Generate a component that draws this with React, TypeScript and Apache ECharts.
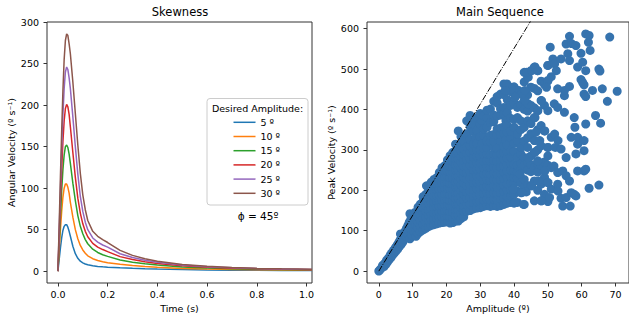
import React, { useEffect, useRef } from "react";
import * as echarts from "echarts";

// ---------- Left panel: skewness velocity profiles ----------
const timeSec = [0, 0.005, 0.01, 0.015, 0.02, 0.025, 0.03, 0.035, 0.04, 0.045, 0.05, 0.06, 0.07, 0.08, 0.09, 0.1, 0.11, 0.12, 0.14, 0.16, 0.18, 0.2, 0.25, 0.3, 0.35, 0.4, 0.5, 0.6, 0.7, 0.8, 0.9, 1.022];
const amplitudeNames = ["5 º", "10 º", "15 º", "20 º", "25 º", "30 º"];
const vel5 = [0, 14, 28, 40, 49, 54, 56, 56, 53, 48, 42, 30, 21, 15.5, 12, 10, 8.6, 7.7, 6.5, 5.7, 5.2, 4.8, 4.0, 3.4, 2.9, 2.5, 1.9, 1.5, 1.2, 1.0, 0.9, 0.8];
const vel10 = [0, 25, 50, 72, 89, 100, 105, 105, 101, 94, 83, 65, 50, 39, 31, 25.5, 21.5, 18.5, 15, 12.8, 11.3, 10.2, 8.2, 6.7, 5.5, 4.6, 3.3, 2.5, 2.0, 1.6, 1.3, 1.1];
const vel15 = [0, 32, 66, 97, 122, 140, 150, 152, 149, 141, 130, 106, 85, 67, 54, 45, 38, 33, 26.5, 22.5, 19.8, 17.8, 13.5, 10.8, 8.8, 7.3, 5.1, 3.8, 2.9, 2.3, 1.9, 1.5];
const vel20 = [0, 40, 82, 122, 156, 181, 196, 201, 198, 189, 174, 143, 113, 88, 70, 57, 48, 41.5, 33.5, 29, 26, 23.5, 17.5, 14, 11.3, 9.3, 6.4, 4.7, 3.6, 2.8, 2.3, 1.8];
const vel25 = [0, 48, 98, 146, 188, 220, 240, 246, 243, 233, 220, 186, 150, 117, 90, 72, 59, 50, 40, 35, 31.5, 29, 21, 16.5, 13.2, 10.8, 7.3, 5.3, 4.0, 3.2, 2.6, 2.0];
const vel30 = [0, 56, 114, 168, 217, 255, 278, 286, 284, 274, 262, 228, 190, 152, 118, 92, 74, 61, 48, 42, 38, 34.5, 25, 19, 15, 12, 8, 5.8, 4.4, 3.5, 2.8, 2.2];
const velocityProfiles = [vel5, vel10, vel15, vel20, vel25, vel30];
const lineColors = ["#1f77b4", "#ff7f0e", "#2ca02c", "#d62728", "#9467bd", "#8c564b"];
const leftXTicks = [0, 0.2, 0.4, 0.6, 0.8, 1.0];
const leftYTicks = [0, 50, 100, 150, 200, 250, 300];

// ---------- Right panel: main sequence ----------
const lowBandPoints: [number, number][] = [
  [0, 0], [0.3, 3], [0.8, 8], [1.1, 14], [1.5, 11], [1.8, 20], [2.1, 17], [2.3, 27], [2.6, 23], [2.9, 33],
  [3.1, 29], [3.4, 40], [3.6, 34], [3.9, 46], [4.1, 40], [4.4, 52], [4.6, 45], [4.9, 58], [5.1, 50], [5.4, 64],
  [5.6, 55], [5.9, 71], [6.1, 61], [6.3, 77], [6.4, 92], [6.6, 66], [6.9, 84], [7.1, 72], [7.3, 91], [7.5, 79],
  [7.8, 99], [8.0, 86], [8.2, 106], [8.4, 93], [8.6, 113], [8.8, 99], [9.0, 121], [9.2, 142], [9.2, 80], [9.3, 106],
  [9.5, 129], [9.7, 90], [9.9, 114], [10.1, 136], [10.3, 99], [10.5, 122], [10.7, 145],
];
const amplitudeColumns: [number, number[]][] = [
  [11.0, [86, 100, 114, 128, 142]],
  [11.6, [93, 107, 121, 135, 149, 158]],
  [12.3, [98, 112, 126, 140, 154, 166]],
  [13.1, [102, 116, 130, 144, 158, 172, 184]],
  [13.9, [106, 120, 134, 148, 162, 176, 190]],
  [14.1, [211]],
  [14.7, [110, 124, 138, 152, 166, 180, 194, 205]],
  [15.5, [113, 127, 141, 155, 169, 183, 197, 211, 220]],
  [16.3, [115, 129, 143, 157, 171, 185, 199, 213, 227]],
  [17.0, [228]],
  [17.1, [117, 131, 145, 159, 173, 187, 201, 215, 231]],
  [17.9, [119, 133, 147, 161, 175, 189, 203, 217, 231, 244]],
  [18.7, [120, 134, 148, 162, 176, 190, 204, 218, 232, 246, 256]],
  [19.5, [121, 135, 149, 163, 177, 191, 205, 219, 233, 247, 261]],
  [20.3, [122, 136, 150, 164, 178, 192, 206, 220, 234, 248, 262, 275]],
  [21.1, [119, 133, 147, 161, 175, 189, 203, 217, 231, 245, 259, 273, 286]],
  [21.9, [120, 132, 146, 160, 174, 188, 202, 216, 230, 244, 258, 272, 281, 294]],
  [22.7, [124, 138, 152, 166, 180, 194, 208, 222, 236, 250, 264, 278, 292, 314]],
  [23.5, [124, 138, 152, 166, 180, 194, 208, 222, 236, 250, 264, 278, 292, 306, 347]],
  [24.3, [130, 144, 158, 172, 186, 200, 214, 228, 242, 256, 270, 284, 298, 312, 333]],
  [25.1, [134, 148, 162, 176, 190, 204, 218, 232, 246, 260, 274, 288, 302, 322]],
  [26.0, [148, 164, 180, 196, 212, 228, 244, 260, 276, 292, 308, 340, 372]],
  [27.0, [150, 166, 182, 198, 214, 230, 246, 262, 278, 294, 310, 326, 358, 385]],
  [28.0, [154, 170, 186, 202, 218, 234, 250, 266, 282, 298, 314, 346, 364]],
  [28.7, [372, 330]],
  [29.0, [156, 172, 188, 204, 220, 236, 252, 268, 284, 300, 316, 348, 380]],
  [30.0, [157, 172, 188, 204, 220, 236, 252, 268, 284, 300, 332, 364, 390]],
  [30.6, [372, 316]],
  [31.0, [160, 176, 192, 208, 224, 240, 256, 272, 288, 304, 336, 352, 384]],
  [32.0, [162, 178, 194, 210, 226, 242, 258, 274, 290, 306, 322, 356, 380, 398]],
  [33.0, [160, 176, 192, 208, 224, 240, 256, 272, 288, 320, 336, 368, 401]],
  [34.0, [162, 178, 194, 210, 226, 242, 258, 274, 290, 306, 322, 338, 370, 386, 420]],
  [35.0, [160, 176, 192, 208, 224, 240, 256, 272, 288, 304, 336, 352, 384, 416, 432]],
  [36.0, [162, 178, 194, 210, 226, 242, 258, 274, 290, 322, 338, 354, 386, 402, 438]],
  [37.0, [165, 181, 197, 213, 229, 245, 261, 277, 293, 309, 341, 357, 389, 405, 437, 463]],
  [37.6, [450, 372, 325]],
  [38.0, [168, 184, 200, 216, 232, 248, 264, 280, 296, 312, 344, 360, 392, 424]],
  [39.0, [170, 186, 202, 218, 234, 250, 266, 282, 298, 330, 346, 378, 410, 444, 455]],
  [40.0, [168, 190, 216, 232, 248, 264, 296, 316, 356, 376, 416, 456]],
  [41.0, [170, 198, 230, 246, 262, 281, 323, 339, 380, 405, 447]],
  [42.0, [194, 218, 250, 266, 290, 306, 350, 372, 412, 438]],
  [43.0, [165, 208, 227, 262, 281, 322, 356, 400, 422, 468, 492]],
  [44.0, [212, 250, 270, 306, 330, 372, 396, 436, 480]],
  [45.0, [211, 246, 264, 285, 340, 365, 410, 455, 496]],
  [46.0, [174, 223, 256, 294, 323, 380, 404, 452, 505]],
  [47.0, [200, 245, 265, 300, 350, 397, 446, 496]],
  [48.0, [174, 215, 262, 310, 360, 422, 470]],
  [49.0, [190, 232, 270, 347, 410, 462]],
  [50.0, [172, 219, 262, 306, 397, 471, 509]],
];
const outerPoints: [number, number][] = [
  [44.2, 480], [43.7, 492], [45.2, 496], [46.2, 505], [47, 496], [50, 509], [50, 471], [49.6, 455], [48.1, 422], [47, 397],
  [46.2, 380], [44.2, 414], [43.2, 422], [49.1, 347], [46.5, 344], [46.2, 323], [47.6, 323], [50, 306], [50, 285], [46.2, 294],
  [44.2, 281], [47, 273], [41.3, 447], [42.3, 438], [40.3, 430], [43.2, 447], [39.2, 451], [37.9, 463], [37.4, 447],
  [41.8, 240], [43.6, 196], [45.2, 211], [47.2, 223], [48.1, 174], [49.1, 248], [50, 219], [42.8, 165], [40.3, 170], [39.8, 203], [42.3, 194],
  [50.7, 554], [51, 203], [51, 256], [51, 331], [51, 481], [51.5, 525], [51.9, 414], [52, 339], [52, 513], [52.2, 306],
  [52.5, 496], [51.8, 260], [52.9, 215], [52.9, 244], [52.9, 405], [52.9, 451], [53, 323], [53.9, 180], [53.9, 302], [53.9, 525],
  [54.4, 161], [54.4, 248], [54.9, 393], [54.9, 434], [54.9, 447], [55.4, 182], [55.4, 236], [55.4, 281], [55.4, 562], [55.9, 538],
  [56.4, 223], [56.4, 457], [56.4, 521], [56.4, 581], [56.6, 161], [56.9, 194], [56.9, 331], [57, 563], [57.8, 190], [57.8, 380],
  [58, 356], [58.3, 186], [58.3, 290], [58.3, 558], [58.8, 248], [58.8, 314], [58.8, 331], [58.8, 505], [59.8, 474], [59.8, 539],
  [60.3, 467], [60.3, 517], [60.7, 248], [60.7, 298], [60.7, 323], [60.7, 438], [60.7, 461], [61.2, 252], [61.2, 364], [61.2, 432],
  [61.2, 496], [61.2, 587], [62, 566], [62.2, 205], [62.2, 583], [62.5, 546], [63.2, 447], [64.1, 385], [65.1, 213], [65.1, 500],
  [65.4, 495], [65.6, 366], [66.1, 451], [67.6, 420], [68.3, 579], [70.5, 445], [53, 198], [50.5, 182],
];
const mainSeqLine: [number, number][] = [[0, 0], [45, 620]];
const rightXTicks = [0, 10, 20, 30, 40, 50, 60, 70];
const rightYTicks = [0, 100, 200, 300, 400, 500, 600];

const FONT = "DejaVu Sans";
const TXT = "#000";
const SPINE = "#333";

export default function App() {
  const ref = useRef<HTMLDivElement>(null);
  useEffect(() => {
    if (!ref.current) return;
    const chart = echarts.init(ref.current, null, { renderer: "svg" });

    const scatterData: [number, number][] = [...lowBandPoints];
    amplitudeColumns.forEach(([a, vs]) => vs.forEach((v) => scatterData.push([a, v])));
    outerPoints.forEach((p) => scatterData.push(p));

    const tickStyle = { show: true, inside: false, length: 3.5, lineStyle: { color: SPINE, width: 1 } };
    const labelStyle = { fontSize: 9.5, color: TXT, fontFamily: FONT };
    const nameStyle = { fontSize: 9.5, color: TXT, fontFamily: FONT };

    const lineSeries = velocityProfiles.map((vals, i) => ({
      name: amplitudeNames[i],
      type: "line",
      xAxisIndex: 0,
      yAxisIndex: 0,
      data: timeSec.map((t, j) => [t, vals[j]]),
      symbol: "none",
      showSymbol: false,
      smooth: false,
      lineStyle: { color: lineColors[i], width: 1.5 },
      itemStyle: { color: lineColors[i] },
      clip: true,
    }));

    const option: any = {
      animation: false,
      textStyle: { fontFamily: FONT },
      grid: [
        { left: 47, top: 22, width: 265, height: 261, show: true, borderColor: SPINE, borderWidth: 1, backgroundColor: "transparent" },
        { left: 367, top: 22, width: 266, height: 261, show: true, borderColor: SPINE, borderWidth: 1, backgroundColor: "transparent" },
      ],
      xAxis: [
        {
          gridIndex: 0, type: "value", min: -0.044, max: 1.022,
          axisLine: { show: false, onZero: false }, splitLine: { show: false },
          axisTick: { ...tickStyle, customValues: leftXTicks },
          axisLabel: { ...labelStyle, margin: 6, customValues: leftXTicks, formatter: (v: number) => v.toFixed(1) },
          name: "Time (s)", nameLocation: "middle", nameGap: 19, nameTextStyle: nameStyle,
        },
        {
          gridIndex: 1, type: "value", min: -3.5, max: 74,
          axisLine: { show: false, onZero: false }, splitLine: { show: false },
          axisTick: { ...tickStyle, customValues: rightXTicks },
          axisLabel: { ...labelStyle, margin: 6, customValues: rightXTicks, formatter: (v: number) => String(Math.round(v)) },
          name: "Amplitude (º)", nameLocation: "middle", nameGap: 19, nameTextStyle: nameStyle,
        },
      ],
      yAxis: [
        {
          gridIndex: 0, type: "value", min: -14.3, max: 300.3,
          axisLine: { show: false, onZero: false }, splitLine: { show: false },
          axisTick: { ...tickStyle, customValues: leftYTicks },
          axisLabel: { ...labelStyle, margin: 8, customValues: leftYTicks, formatter: (v: number) => String(Math.round(v)) },
          name: "Angular Velocity (º s⁻¹)", nameLocation: "middle", nameGap: 30, nameTextStyle: nameStyle,
        },
        {
          gridIndex: 1, type: "value", min: -29.4, max: 616.4,
          axisLine: { show: false, onZero: false }, splitLine: { show: false },
          axisTick: { ...tickStyle, customValues: rightYTicks },
          axisLabel: { ...labelStyle, margin: 8, customValues: rightYTicks, formatter: (v: number) => String(Math.round(v)) },
          name: "Peak Velocity (º s⁻¹)", nameLocation: "middle", nameGap: 30, nameTextStyle: nameStyle,
        },
      ],
      legend: {
        data: amplitudeNames,
        orient: "vertical",
        left: 233.5,
        top: 115.3,
        padding: 0,
        itemGap: 0.2,
        itemWidth: 22,
        itemHeight: 1.5,
        icon: "rect",
        z: 10,
        textStyle: { fontSize: 9.5, lineHeight: 14, color: TXT, fontFamily: FONT },
        selectedMode: false,
      },
      graphic: [
        { type: "text", x: 180, y: 12, z: 10, style: { text: "Skewness", align: "center", verticalAlign: "middle", fontSize: 11.5, fontFamily: FONT, fill: TXT } },
        { type: "text", x: 500, y: 12, z: 10, style: { text: "Main Sequence", align: "center", verticalAlign: "middle", fontSize: 11.5, fontFamily: FONT, fill: TXT } },
        { type: "rect", z: 5, shape: { x: 207, y: 98.5, width: 101, height: 106.5, r: 3 }, style: { fill: "rgba(255,255,255,0.8)", stroke: "#cccccc", lineWidth: 1 } },
        { type: "text", x: 257.5, y: 108.5, z: 10, style: { text: "Desired Amplitude:", align: "center", verticalAlign: "middle", fontSize: 9.5, fontFamily: FONT, fill: TXT } },
        { type: "text", x: 258, y: 216, z: 10, style: { text: "ϕ = 45º", align: "center", verticalAlign: "middle", fontSize: 10.5, fontFamily: FONT, fill: TXT } },
      ],
      series: [
        ...lineSeries,
        {
          name: "mainSequence",
          type: "scatter",
          xAxisIndex: 1,
          yAxisIndex: 1,
          data: scatterData,
          symbolSize: 9,
          itemStyle: { color: "#3673ae", opacity: 1 },
          clip: true,
        },
        {
          name: "mainSeqLine",
          type: "line",
          xAxisIndex: 1,
          yAxisIndex: 1,
          data: mainSeqLine,
          symbol: "none",
          showSymbol: false,
          clip: true,
          z: 5,
          lineStyle: { color: "#000", width: 1, type: [6, 1.5, 1, 1.5] },
        },
      ],
    };
    chart.setOption(option);
    return () => chart.dispose();
  }, []);

  return <div ref={ref} style={{ position: "absolute", left: 0, top: 0, width: 629, height: 320 }} />;
}
